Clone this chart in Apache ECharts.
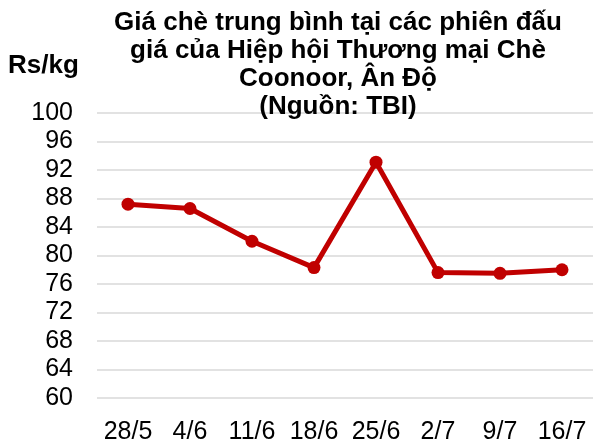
<!DOCTYPE html>
<html lang="vi">
  <head>
    <meta charset="UTF-8" />
    <title>Giá chè Coonoor</title>
    <script src="https://cdn.jsdelivr.net/npm/echarts@6/dist/echarts.min.js"></script>
    <style>
      html, body { margin: 0; padding: 0; background: #fff; }
    </style>
  </head>
  <body>
    <div id="chart" style="width: 593px; height: 445px"></div>
  </body>
  <script>
    // phiên đấu giá
    const categories = ['28/5', '4/6', '11/6', '18/6', '25/6', '2/7', '9/7', '16/7']
    // giá trung bình, Rs/kg
    const prices = [87.2, 86.6, 82.0, 78.3, 93.1, 77.6, 77.5, 78.0]
    const yMin = 60
    const yMax = 100
    const yStep = 4

    const chart = echarts.init(document.getElementById('chart'))
    const font = 'Liberation Sans, Arial, sans-serif'

    const option = {
      animation: false,
      backgroundColor: '#fff',
      title: {
        text: 'Giá chè trung bình tại các phiên đấu\ngiá của Hiệp hội Thương mại Chè\nCoonoor, Ân Độ\n(Nguồn: TBI)',
        left: 333,
        top: 4,
        textAlign: 'center',
        textStyle: {
          fontFamily: font,
          fontSize: 26,
          fontWeight: 'bold',
          color: '#000',
          lineHeight: 28
        }
      },
      graphic: [
        {
          type: 'text',
          left: 8,
          top: 53,
          style: {
            text: 'Rs/kg',
            font: 'bold 26px Liberation Sans, Arial, sans-serif',
            fill: '#000'
          }
        }
      ],
      grid: {
        left: 97,
        right: -2,
        top: 113,
        bottom: 47,
        containLabel: false
      },
      xAxis: {
        type: 'category',
        data: categories,
        boundaryGap: true,
        axisLine: { show: false },
        axisTick: { show: false },
        axisLabel: {
          color: '#000',
          fontFamily: font,
          fontSize: 25,
          margin: 22,
          interval: 0
        }
      },
      yAxis: {
        type: 'value',
        min: yMin,
        max: yMax,
        interval: yStep,
        axisLine: { show: false },
        axisTick: { show: false },
        axisLabel: {
          color: '#000',
          fontFamily: font,
          fontSize: 25,
          margin: 24
        },
        splitLine: {
          lineStyle: { color: '#d9d9d9', width: 1.5 }
        }
      },
      series: [
        {
          type: 'line',
          data: prices,
          symbol: 'circle',
          symbolSize: 13,
          lineStyle: { color: '#c00000', width: 5 },
          itemStyle: { color: '#c00000' }
        }
      ]
    }
    chart.setOption(option)
  </script>
</html>
